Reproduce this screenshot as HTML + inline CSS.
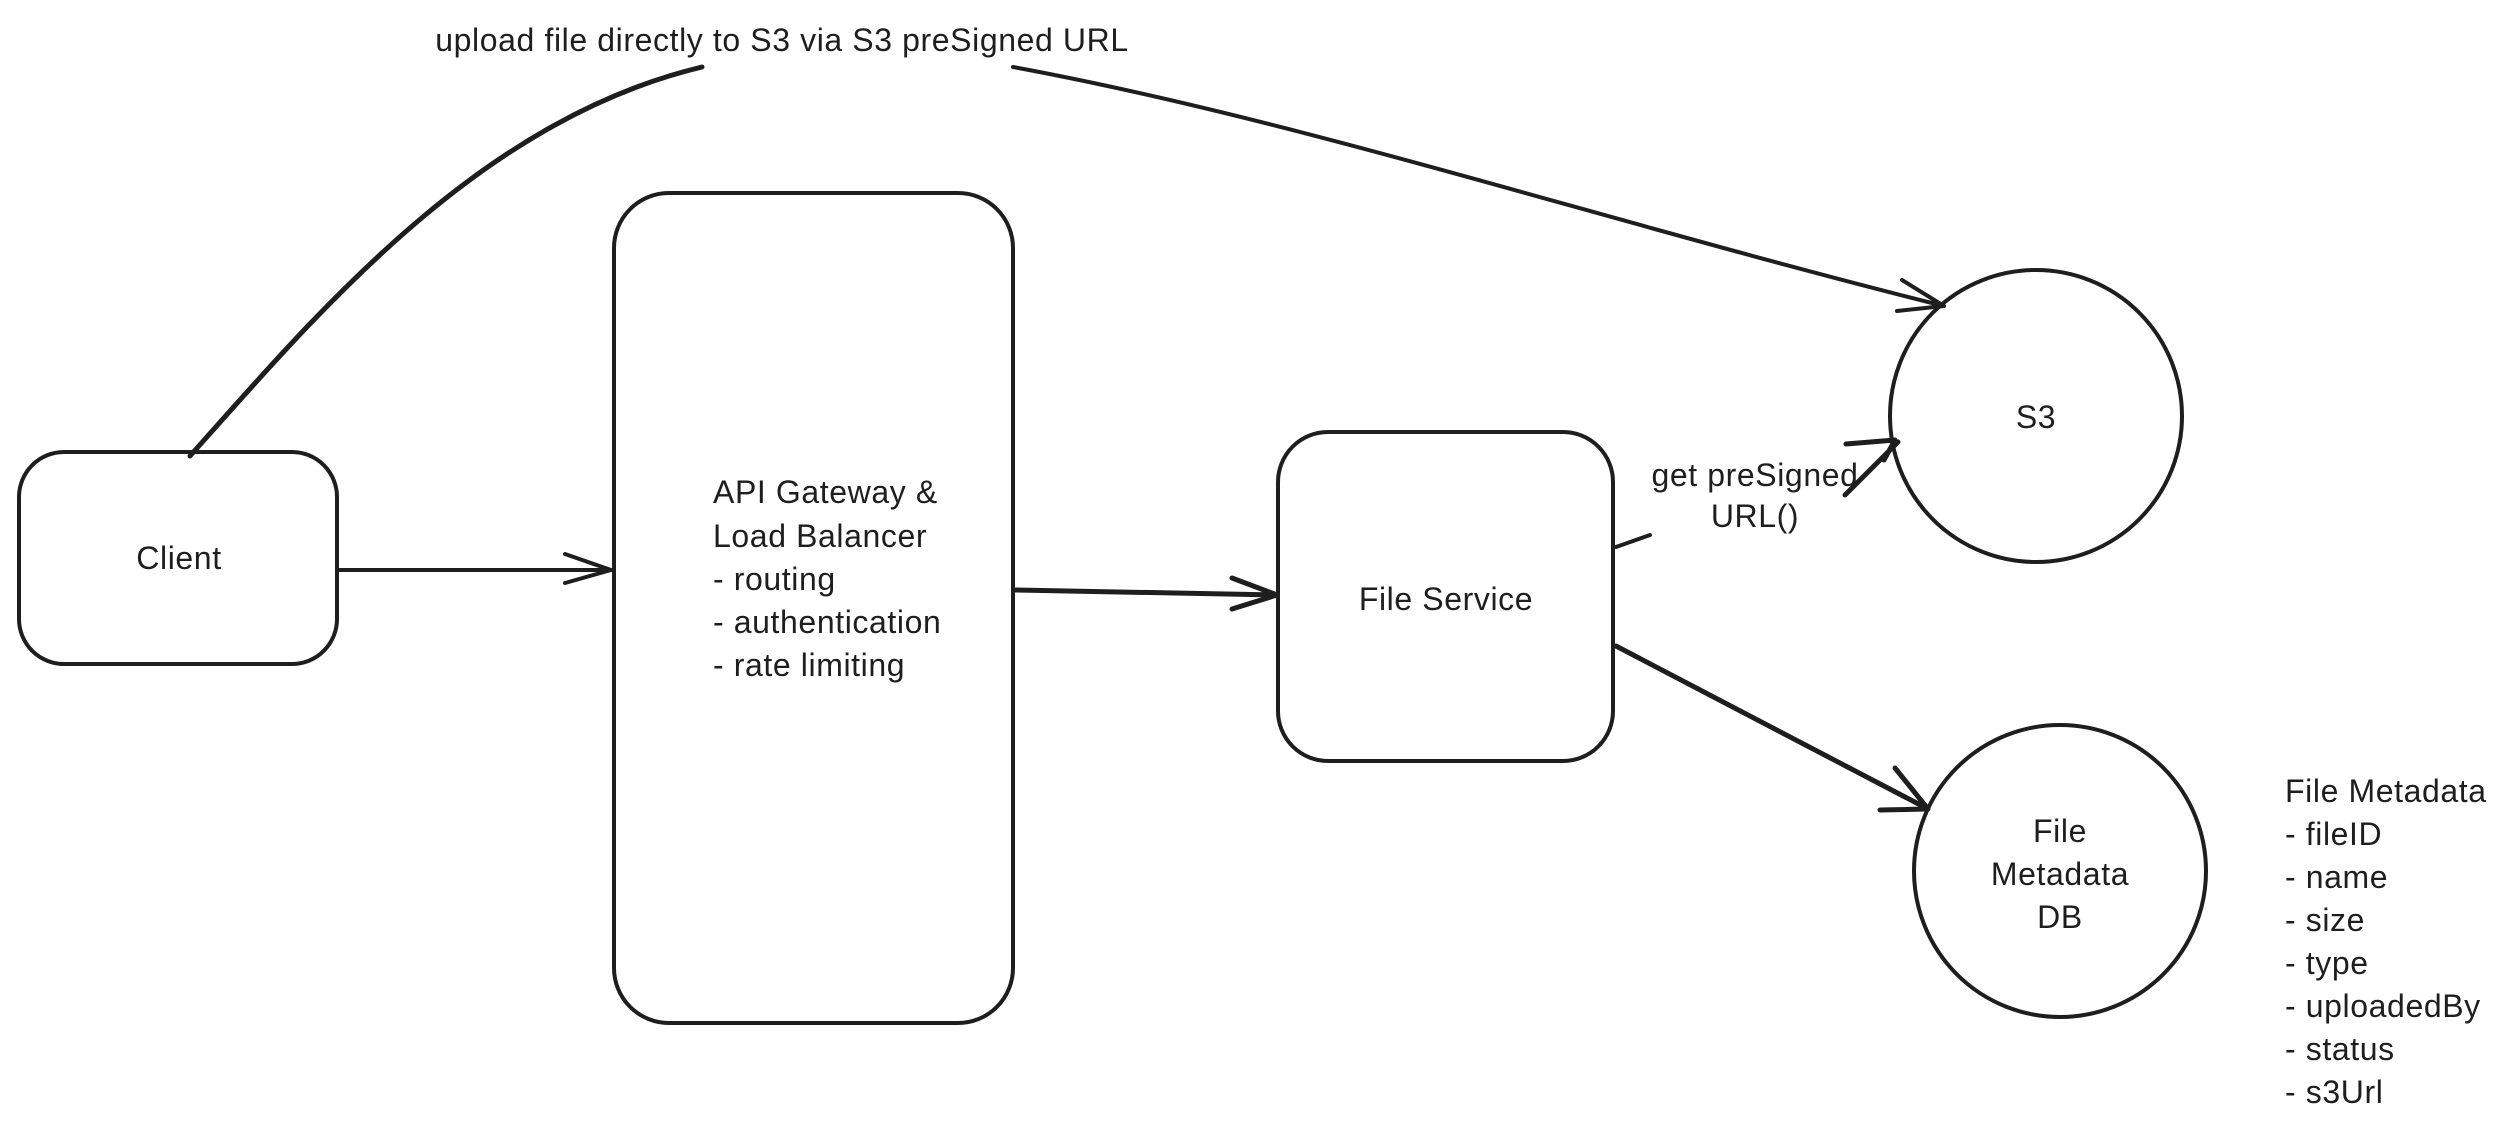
<!DOCTYPE html>
<html><head><style>
html,body{margin:0;padding:0;background:#fff;}
svg{display:block}
text{font-family:"Liberation Sans",sans-serif;font-size:32px;letter-spacing:0.6px;fill:#1e1e1e}
</style></head><body>
<svg width="2502" height="1135" viewBox="0 0 2502 1135" xmlns="http://www.w3.org/2000/svg">
<g fill="none" stroke="#1e1e1e" stroke-width="4" stroke-linecap="round" stroke-linejoin="round">
<rect x="19" y="452" width="318" height="212" rx="45"/>
<rect x="614" y="193" width="399" height="830" rx="55"/>
<rect x="1278" y="432" width="335" height="329" rx="50"/>
<circle cx="2036" cy="416" r="146"/>
<circle cx="2060" cy="871" r="146"/>
<path d="M340 570 L611 570 M565 554 L611 570 L565 583"/>
<path d="M1016 590 L1277 595 M1232 578 L1277 595 L1232 609" stroke-width="5"/>
<path d="M1616 547 L1650 535"/>
<path d="M1845 495 L1898 442 M1846 444 L1895 440 L1884 460" stroke-width="5"/>
<path d="M1616 646 L1928 809 M1895 768 L1928 809 L1880 810" stroke-width="5"/>
<path d="M190 456 C 320 310, 480 120, 702 67" stroke-width="5"/>
<path d="M1013 67 C 1300 120, 1600 220, 1944 306 M1902 280 L1944 306 L1897 311" stroke-width="4"/>
</g>
<text x="782" y="51" text-anchor="middle">upload file directly to S3 via S3 preSigned URL</text>
<text x="179" y="569" text-anchor="middle">Client</text>
<text x="713" y="503">API Gateway &amp;</text>
<text x="713" y="547">Load Balancer</text>
<text x="713" y="590">- routing</text>
<text x="713" y="633">- authentication</text>
<text x="713" y="676">- rate limiting</text>
<text x="1446" y="610" text-anchor="middle">File Service</text>
<text x="1755" y="486" text-anchor="middle">get preSigned</text>
<text x="1755" y="527" text-anchor="middle">URL()</text>
<text x="2036" y="428" text-anchor="middle">S3</text>
<text x="2060" y="842" text-anchor="middle">File</text>
<text x="2060" y="885" text-anchor="middle">Metadata</text>
<text x="2060" y="928" text-anchor="middle">DB</text>
<text x="2285" y="802">File Metadata</text>
<text x="2285" y="845">- fileID</text>
<text x="2285" y="888">- name</text>
<text x="2285" y="931">- size</text>
<text x="2285" y="974">- type</text>
<text x="2285" y="1017">- uploadedBy</text>
<text x="2285" y="1060">- status</text>
<text x="2285" y="1103">- s3Url</text>
</svg>
</body></html>
